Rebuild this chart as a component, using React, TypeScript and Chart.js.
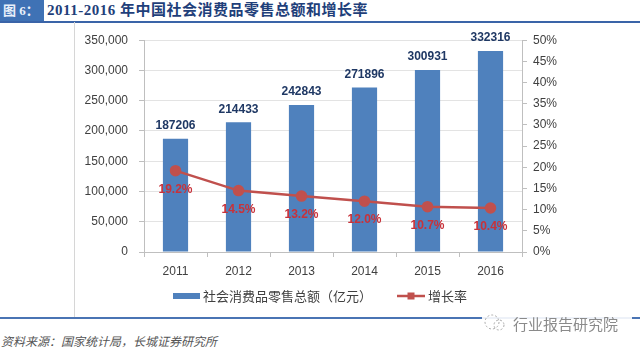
import React, { useEffect, useRef } from "react";
import { Chart, registerables } from "chart.js";

Chart.register(...registerables);

const years = ["2011", "2012", "2013", "2014", "2015", "2016"];
const retailSales = [187206, 214433, 242843, 271896, 300931, 332316];
const growthRate = [19.2, 14.5, 13.2, 12.0, 10.7, 10.4];
const growthLabels = ["19.2%", "14.5%", "13.2%", "12.0%", "10.7%", "10.4%"];
const barName = "社会消费品零售总额（亿元）";
const lineName = "增长率";
const titleText = "2011-2016 年中国社会消费品零售总额和增长率";
const figLabel = "图 6：";
const sourceText = "资料来源：国家统计局，长城证券研究所";
const watermarkText = "行业报告研究院";

const BAR_COLOR = "#4f81bd";
const LINE_COLOR = "#c0504d";
const FONT = "'Liberation Sans', Arial, 'Noto Sans CJK SC', sans-serif";
const CJK = "'Noto Sans CJK SC', 'Liberation Sans', sans-serif";

const labelPlugin = {
  id: "valueLabels",
  afterDatasetsDraw(chart: any) {
    const ctx = chart.ctx;
    ctx.save();
    const barMeta = chart.getDatasetMeta(0);
    ctx.font = `bold 12px ${FONT}`;
    ctx.fillStyle = "#1f3864";
    ctx.textAlign = "center";
    ctx.textBaseline = "middle";
    barMeta.data.forEach((el: any, i: number) => {
      ctx.fillText(String(retailSales[i]), el.x, el.y - 13);
    });
    const lineMeta = chart.getDatasetMeta(1);
    ctx.font = `bold 12px ${FONT}`;
    ctx.fillStyle = "#c8323a";
    lineMeta.data.forEach((el: any, i: number) => {
      ctx.fillText(growthLabels[i], el.x, el.y + 19);
    });
    ctx.restore();
  },
  afterDraw(chart: any) {
    const ctx = chart.ctx;
    ctx.save();
    ctx.font = `13px ${CJK}`;
    ctx.textBaseline = "middle";
    const y = 274;
    const w1 = ctx.measureText(barName).width;
    const w2 = ctx.measureText(lineName).width;
    const total = 27 + 3 + w1 + 25 + 28 + 3 + w2;
    let x = 246 - total / 2;
    ctx.fillStyle = BAR_COLOR;
    ctx.fillRect(x, y - 3, 27, 6);
    x += 30;
    ctx.fillStyle = "#404040";
    ctx.textAlign = "left";
    ctx.fillText(barName, x, y);
    x += w1 + 25;
    ctx.strokeStyle = LINE_COLOR;
    ctx.lineWidth = 2.5;
    ctx.beginPath();
    ctx.moveTo(x, y);
    ctx.lineTo(x + 28, y);
    ctx.stroke();
    ctx.fillStyle = LINE_COLOR;
    ctx.fillRect(x + 14 - 3.5, y - 3.5, 7, 7);
    x += 31;
    ctx.fillStyle = "#404040";
    ctx.fillText(lineName, x, y);
    ctx.restore();
  },
};

function ChartCanvas() {
  const ref = useRef<HTMLCanvasElement | null>(null);
  useEffect(() => {
    if (!ref.current) return;
    const chart = new Chart(ref.current, {
      type: "bar",
      data: {
        labels: years,
        datasets: [
          {
            type: "bar",
            label: barName,
            data: retailSales,
            backgroundColor: BAR_COLOR,
            barPercentage: 0.4,
            categoryPercentage: 1,
            yAxisID: "y",
            order: 1,
          },
          {
            type: "line",
            label: lineName,
            data: growthRate,
            borderColor: LINE_COLOR,
            backgroundColor: LINE_COLOR,
            borderWidth: 2.5,
            pointRadius: 4.5,
            pointBackgroundColor: LINE_COLOR,
            pointBorderColor: LINE_COLOR,
            yAxisID: "y1",
            order: 0,
            tension: 0,
          } as any,
        ],
      },
      options: {
        responsive: false,
        animation: false,
        layout: { padding: { top: 15, left: 0, right: 0, bottom: 0 } },
        plugins: {
          legend: { display: false },
          tooltip: { enabled: false },
          title: { display: false },
        },
        scales: {
          x: {
            grid: {
              drawOnChartArea: false,
              drawTicks: true,
              tickLength: 5,
              tickColor: "#bfbfbf",
              offset: true,
            },
            border: { color: "#bfbfbf" },
            ticks: {
              color: "#404040",
              font: { family: FONT, size: 12 },
              padding: 7,
            },
            afterFit(scale: any) {
              scale.height = 65;
            },
          },
          y: {
            position: "left",
            min: 0,
            max: 350000,
            ticks: {
              stepSize: 50000,
              color: "#404040",
              font: { family: FONT, size: 12 },
              padding: 11,
              callback: (v: any) => Number(v).toLocaleString("en-US"),
            },
            grid: {
              color: "#e3e3e3",
              tickColor: "#bfbfbf",
              tickLength: 5,
            },
            border: { color: "#bfbfbf" },
            afterFit(scale: any) {
              scale.width = 70;
            },
          },
          y1: {
            position: "right",
            min: 0,
            max: 50,
            ticks: {
              stepSize: 5,
              color: "#404040",
              font: { family: FONT, size: 12 },
              padding: 6,
              callback: (v: any) => `${v}%`,
            },
            grid: {
              drawOnChartArea: false,
              tickColor: "#bfbfbf",
              tickLength: 5,
            },
            border: { color: "#bfbfbf" },
            afterFit(scale: any) {
              scale.width = 118;
            },
          },
        },
      },
      plugins: [labelPlugin],
    });
    return () => chart.destroy();
  }, []);
  return (
    <canvas
      ref={ref}
      width={566}
      height={295}
      style={{ position: "absolute", left: 74, top: 22, width: 566, height: 295 }}
    />
  );
}

export default function App() {
  return (
    <div
      style={{
        position: "fixed",
        left: 0,
        top: 0,
        width: 640,
        height: 351,
        background: "#ffffff",
        overflow: "hidden",
      }}
    >
      <div
        style={{
          position: "absolute",
          left: 0,
          top: 0,
          width: 44,
          height: 21,
          background: "#3f72b5",
          color: "#e8f0fa",
          font: `bold 13px 'Liberation Serif', ${CJK}`,
          lineHeight: "21px",
          paddingLeft: 3,
          boxSizing: "border-box",
          whiteSpace: "nowrap",
        }}
      >
        {figLabel}
      </div>
      <div
        style={{
          position: "absolute",
          left: 47,
          top: 0,
          height: 21,
          color: "#1f3f7a",
          font: `bold 15px 'Liberation Serif', ${CJK}`,
          lineHeight: "21px",
          letterSpacing: 0.5,
          whiteSpace: "nowrap",
        }}
      >
        {titleText}
      </div>
      <div style={{ position: "absolute", left: 0, top: 21, width: 640, height: 1.5, background: "#3a64a8" }} />
      <div style={{ position: "absolute", left: 74, top: 22, width: 1, height: 295, background: "#d6d6d6" }} />
      <ChartCanvas />
      <div style={{ position: "absolute", left: 0, top: 317, width: 640, height: 2, background: "#4a74b4" }} />
      <div
        style={{
          position: "absolute",
          left: 482,
          top: 312,
          width: 150,
          height: 22,
          background: "rgba(255,255,255,0.9)",
          display: "flex",
          alignItems: "center",
        }}
      >
        <svg width="26" height="20" viewBox="0 0 26 20">
          <circle cx="10" cy="9" r="7" fill="none" stroke="#aaaaaa" strokeWidth="1" strokeDasharray="2 2" />
          <circle cx="17" cy="12" r="5" fill="none" stroke="#aaaaaa" strokeWidth="1" strokeDasharray="2 2" />
        </svg>
        <span
          style={{
            marginLeft: 5,
            font: `15px ${CJK}`,
            color: "#8a8a8a",
            whiteSpace: "nowrap",
          }}
        >
          {watermarkText}
        </span>
      </div>
      <div
        style={{
          position: "absolute",
          left: 1,
          top: 333,
          font: `italic 12px ${CJK}`,
          color: "#555555",
          whiteSpace: "nowrap",
          lineHeight: "16px",
        }}
      >
        {sourceText}
      </div>
    </div>
  );
}
